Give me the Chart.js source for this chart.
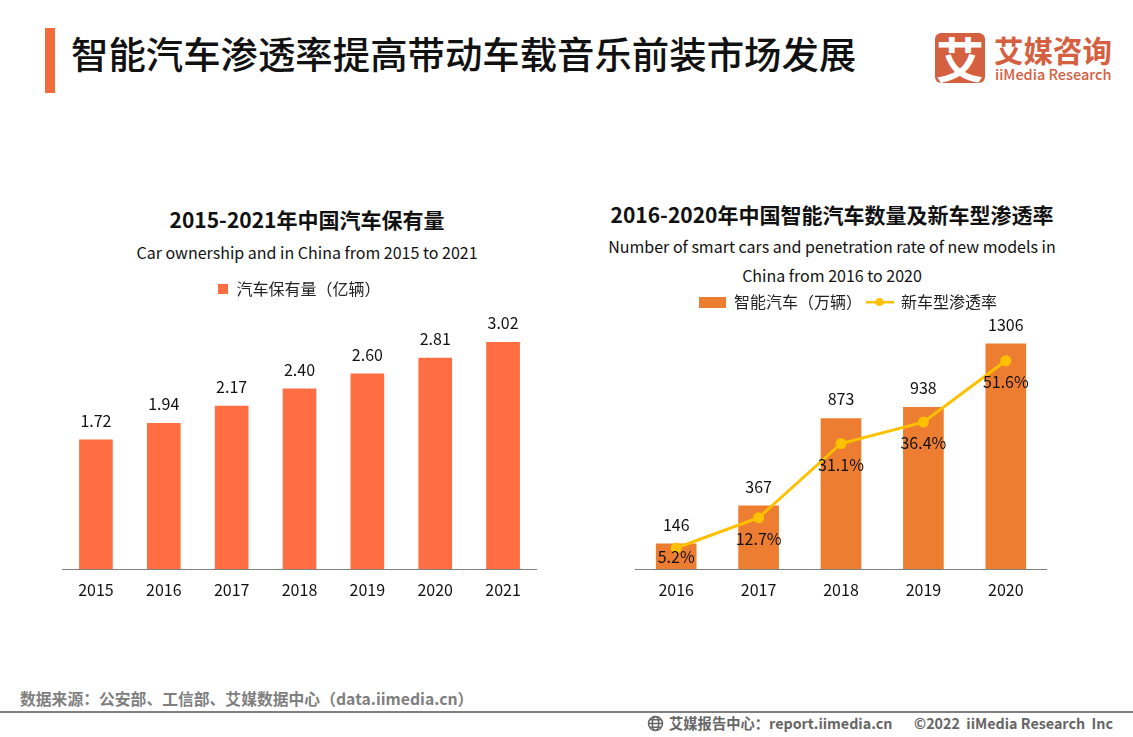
<!DOCTYPE html>
<html>
<head>
<meta charset="utf-8">
<script src="https://cdn.jsdelivr.net/npm/chart.js@4/dist/chart.umd.min.js"></script>
<style>
  html, body { margin: 0; padding: 0; background: #fff; }
  body { width: 1133px; height: 737px; position: relative; overflow: hidden; font-family: "Noto Sans CJK SC", sans-serif; color: #111; }
  .abs { position: absolute; white-space: nowrap; line-height: 1; }
  .c { transform: translateX(-50%); text-align: center; }
  canvas { position: absolute; }
</style>
</head>
<body>
  <div class="abs" style="left:45px;top:28px;width:10px;height:65px;background:#F26B3A"></div>
  <div class="abs" style="left:71px;top:35px;font-size:37.4px;font-weight:500;">智能汽车渗透率提高带动车载音乐前装市场发展</div>

  <div class="abs" style="left:935px;top:33px;width:50px;height:50px;border-radius:6px;background:#D4603F;color:#fff;font-size:48px;font-weight:700;text-align:center;line-height:48px;">艾</div>
  <div class="abs" style="left:994px;top:35px;font-size:29.5px;font-weight:700;color:#D4603F;">艾媒咨询</div>
  <div class="abs" style="left:995px;top:67px;font-size:14.5px;font-weight:500;color:#D4603F;">iiMedia Research</div>

  <div class="abs c" style="left:307px;top:209px;font-size:21px;font-weight:700;">2015-2021年中国汽车保有量</div>
  <div class="abs c" style="left:307px;top:244px;font-size:16px;">Car ownership and in China from 2015 to 2021</div>
  <div class="abs c" style="left:832px;top:204px;font-size:21px;font-weight:700;">2016-2020年中国智能汽车数量及新车型渗透率</div>
  <div class="abs c" style="left:832px;top:238px;font-size:16px;">Number of smart cars and penetration rate of new models in</div>
  <div class="abs c" style="left:832px;top:267px;font-size:16px;">China from 2016 to 2020</div>

  <canvas id="chart1" width="475" height="333" style="left:62px;top:277px;"></canvas>
  <canvas id="chart2" width="412" height="320" style="left:635px;top:290px;"></canvas>

  <div class="abs" style="left:20px;top:691px;font-size:15.8px;font-weight:700;color:#7f7f7f;">数据来源&#xFF1A;公安部、工信部、艾媒数据中心&#xFF08;data.iimedia.cn&#xFF09;</div>
  <div class="abs" style="left:0;top:711px;width:1133px;height:2px;background:#808080"></div>
  <svg class="abs" style="left:647px;top:715px" width="17" height="17" viewBox="0 0 17 17" fill="none" stroke="#666" stroke-width="1.5">
    <circle cx="8.5" cy="8.5" r="7"/><ellipse cx="8.5" cy="8.5" rx="3.2" ry="7"/><path d="M1.5 8.5h14M2.8 4.8h11.4M2.8 12.2h11.4"/>
  </svg>
  <div class="abs" style="left:669px;top:716px;font-size:14.3px;font-weight:700;color:#666;">艾媒报告中心&#xFF1A;report.iimedia.cn</div>
  <div class="abs" style="left:914px;top:716px;font-size:14.3px;font-weight:700;color:#666;">©2022 &nbsp;iiMedia Research &nbsp;Inc</div>

<script>
  "use strict";

  var ownershipYears = ['2015', '2016', '2017', '2018', '2019', '2020', '2021'];
  var ownershipValues = [1.72, 1.94, 2.17, 2.40, 2.60, 2.81, 3.02];

  var smartYears = ['2016', '2017', '2018', '2019', '2020'];
  var smartCars = [146, 367, 873, 938, 1306];
  var penetrationRate = [5.2, 12.7, 31.1, 36.4, 51.6];

  var fontFamily = '"Noto Sans CJK SC", sans-serif';
  Chart.defaults.font.family = fontFamily;
  Chart.defaults.color = '#111';

  // value labels, drawn after the datasets so they stay on top of bars and line
  var valueLabels = {
    id: 'valueLabels',
    afterDatasetsDraw: function (chart) {
      var ctx = chart.ctx;
      ctx.save();
      ctx.font = '16px ' + fontFamily;
      ctx.fillStyle = '#111';
      ctx.textAlign = 'center';
      chart.data.datasets.forEach(function (ds, i) {
        chart.getDatasetMeta(i).data.forEach(function (el, j) {
          if (ds.type === 'line') {
            ctx.textBaseline = 'middle';
            ctx.fillText(ds.data[j].toFixed(1) + '%', el.x, el.y + (j === 0 ? 9 : 21));
          } else {
            ctx.textBaseline = 'alphabetic';
            var text = ds.decimals ? ds.data[j].toFixed(ds.decimals) : String(ds.data[j]);
            ctx.fillText(text, el.x, el.y - 13);
          }
        });
      });
      ctx.restore();
    }
  };

  // moves the legend sideways, it is not centred on the plot in the original
  var legendShift = {
    id: 'legendShift',
    afterLayout: function (chart, args, opts) {
      chart.legend.left += opts.dx;
      chart.legend.right += opts.dx;
    }
  };

  function swatch(w, h, color) {
    var c = document.createElement('canvas');
    c.width = w;
    c.height = h;
    var ctx = c.getContext('2d');
    ctx.fillStyle = color;
    ctx.fillRect(0, 0, w, h);
    return c;
  }

  function lineMarker(color) {
    var c = document.createElement('canvas');
    c.width = 28;
    c.height = 10;
    var ctx = c.getContext('2d');
    ctx.fillStyle = color;
    ctx.fillRect(0, 4, 28, 2.5);
    ctx.beginPath();
    ctx.arc(14, 5, 4, 0, Math.PI * 2);
    ctx.fill();
    return c;
  }

  function xAxis() {
    return {
      grid: { display: false },
      border: { color: '#808080', width: 1 },
      ticks: { font: { size: 16 }, color: '#111', padding: 3, maxRotation: 0 },
      afterFit: function (scale) { scale.height = 41; }
    };
  }

  new Chart(document.getElementById('chart1').getContext('2d'), {
    type: 'bar',
    data: {
      labels: ownershipYears,
      datasets: [{
        label: '汽车保有量\uFF08亿辆\uFF09',
        data: ownershipValues,
        decimals: 2,
        backgroundColor: '#FF6D42',
        barThickness: 33
      }]
    },
    options: {
      responsive: false,
      maintainAspectRatio: false,
      animation: false,
      layout: { autoPadding: false },
      scales: {
        x: xAxis(),
        y: { display: false, min: 0, max: 3.491 }
      },
      plugins: {
        legend: {
          labels: {
            font: { size: 16 },
            color: '#222',
            padding: 4,
            usePointStyle: true,
            pointStyleWidth: 10,
            generateLabels: function (chart) {
              return [{ text: chart.data.datasets[0].label, pointStyle: swatch(10, 10, '#FF6D42'), fontColor: '#222', lineWidth: 0, datasetIndex: 0 }];
            }
          }
        },
        legendShift: { dx: 0 },
        tooltip: { enabled: false }
      }
    },
    plugins: [valueLabels, legendShift]
  });

  new Chart(document.getElementById('chart2').getContext('2d'), {
    type: 'bar',
    data: {
      labels: smartYears,
      datasets: [{
        type: 'line',
        label: '新车型渗透率',
        data: penetrationRate,
        yAxisID: 'y1',
        borderColor: '#FFC000',
        backgroundColor: '#FFC000',
        borderWidth: 3,
        pointRadius: 4,
        tension: 0,
        order: 1
      }, {
        label: '智能汽车\uFF08万辆\uFF09',
        data: smartCars,
        backgroundColor: '#ED7D31',
        barThickness: 40,
        order: 2
      }]
    },
    options: {
      responsive: false,
      maintainAspectRatio: false,
      animation: false,
      layout: { autoPadding: false },
      scales: {
        x: xAxis(),
        y: { display: false, min: 0, max: 1444 },
        y1: { display: false, min: 0, max: 61.7 }
      },
      plugins: {
        legend: {
          labels: {
            font: { size: 16 },
            color: '#222',
            padding: 4,
            usePointStyle: true,
            pointStyleWidth: 27,
            generateLabels: function (chart) {
              return [
                { text: chart.data.datasets[1].label, pointStyle: swatch(27, 11, '#ED7D31'), fontColor: '#222', lineWidth: 0, datasetIndex: 1 },
                { text: chart.data.datasets[0].label, pointStyle: lineMarker('#FFC000'), fontColor: '#222', lineWidth: 0, datasetIndex: 0 }
              ];
            }
          }
        },
        legendShift: { dx: 7 },
        tooltip: { enabled: false }
      }
    },
    plugins: [valueLabels, legendShift]
  });
</script>
</body>
</html>
